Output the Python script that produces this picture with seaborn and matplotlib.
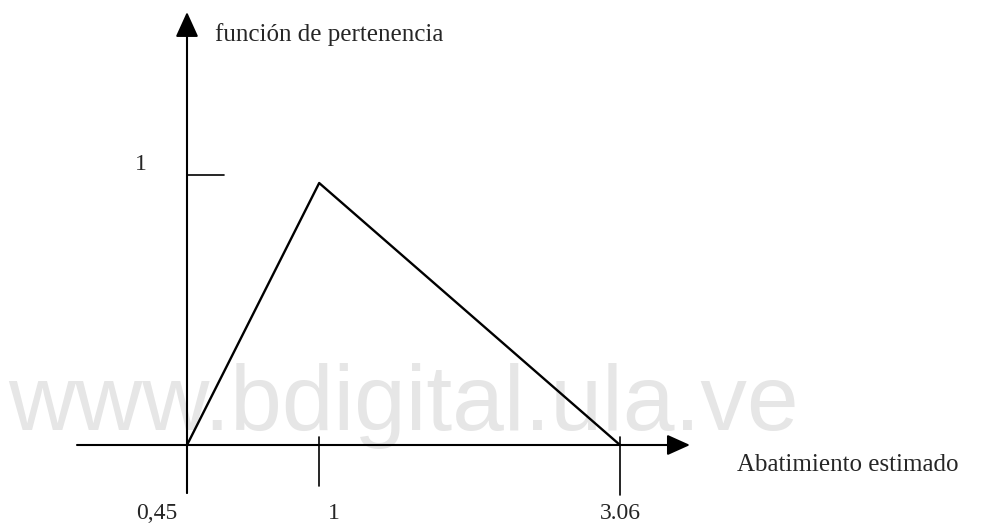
import numpy as np
import pandas as pd
import matplotlib
matplotlib.use("Agg")
import matplotlib.pyplot as plt
import matplotlib.transforms as mtransforms
import seaborn as sns

# ---- data ----
x_values = [0.45, 1.0, 3.06]          # abatimiento estimado
membership = [0.0, 1.0, 0.0]          # función de pertenencia
x_tick_labels = ["0,45", "1", "3.06"]
y_tick_values = [1.0]
y_tick_labels = ["1"]
x_axis_label = "Abatimiento estimado"
y_axis_label = "función de pertenencia"
watermark = "www.bdigital.ula.ve"

W, H = 981, 524
sns.set_theme(style="white")
plt.rcParams["font.family"] = ["Liberation Serif", "DejaVu Serif"]

fig = plt.figure(figsize=(W / 100, H / 100), dpi=100)
ax = fig.add_axes([0, 0, 1, 1])
ax.set_xscale("function", functions=(np.sqrt, np.square))
ax.set_xlim(0.04203, 7.014)
ax.set_ylim(-0.3015, 1.6985)
ax.axis("off")

def P(px, py):
    """pixel (from top-left) -> axes fraction"""
    return (px / W, 1 - py / H)

blend = mtransforms.blended_transform_factory(ax.transData, ax.transAxes)
blend_y = mtransforms.blended_transform_factory(ax.transAxes, ax.transData)

# watermark
ax.text(*P(8, 430), watermark, transform=ax.transAxes, family="Liberation Sans",
        fontsize=67, color="#e6e6e6", ha="left", va="baseline", zorder=0)

df = pd.DataFrame({"x": x_values, "y": membership})
sns.lineplot(data=df, x="x", y="y", ax=ax, color="black", lw=1.7, sort=False,
             zorder=3)

lw = 1.5
# y axis with arrow
ax.annotate("", xy=P(187, 12), xytext=P(187, 493), xycoords=ax.transAxes,
            textcoords=ax.transAxes,
            arrowprops=dict(arrowstyle="-|>,head_length=1.1,head_width=0.5",
                            mutation_scale=14, lw=lw, color="black",
                            shrinkA=0, shrinkB=0))
# x axis with arrow
ax.annotate("", xy=P(690, 445), xytext=P(77, 445), xycoords=ax.transAxes,
            textcoords=ax.transAxes,
            arrowprops=dict(arrowstyle="-|>,head_length=1.0,head_width=0.45",
                            mutation_scale=14, lw=lw, color="black",
                            shrinkA=0, shrinkB=0))

# x ticks (drawn at data positions)
tick_ranges = [(445, 493), (437, 486), (437, 495)]
for xv, (t0, t1) in zip(x_values, tick_ranges):
    ax.plot([xv, xv], [1 - t0 / H, 1 - t1 / H], transform=blend,
            color="black", lw=1.2)

label_dx = [-30, 15, 0]
for xv, lab, dx in zip(x_values, x_tick_labels, label_dx):
    t = mtransforms.offset_copy(blend, fig=fig, x=dx * 0.72, y=0, units="points")
    ax.text(xv, 1 - 519 / H, lab, transform=t, ha="center", va="baseline",
            fontsize=17)

# y tick
for yv, lab in zip(y_tick_values, y_tick_labels):
    t = mtransforms.offset_copy(blend_y, fig=fig, x=0, y=8 * 0.72, units="points")
    ax.plot([188 / W, 224 / W], [yv, yv], transform=t, color="black", lw=1.2)
    ax.text(141 / W, yv, lab, transform=t, ha="center", va="bottom",
            fontsize=17)

ax.text(*P(215, 35), y_axis_label, transform=ax.transAxes, ha="left",
        va="center", fontsize=18)
ax.text(*P(737, 465), x_axis_label, transform=ax.transAxes, ha="left",
        va="center", fontsize=18)

fig.savefig("out.png", dpi=100, facecolor="white")
